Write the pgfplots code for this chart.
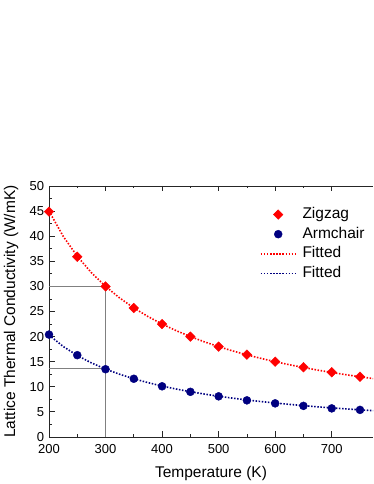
\documentclass[border=0pt]{standalone}
\usepackage{fontspec}
\setmainfont{Liberation Sans}
\usepackage{pgfplots}
\pgfplotsset{compat=1.18}
\definecolor{zigred}{RGB}{255,0,0}
\definecolor{armnavy}{RGB}{0,0,128}
\pgfplotsset{
  markleg/.style={legend image code/.code={\draw[##1] plot coordinates {(17.5pt,0pt)};}},
  lineleg/.style={legend image code/.code={\draw[##1] (0pt,0pt) -- (35pt,0pt);}},
}
\begin{document}
\begin{tikzpicture}
\path[use as bounding box] (0,0) rectangle (374pt,484pt);
\begin{axis}[
  at={(49pt,47pt)}, anchor=south west,
  scale only axis, width=324pt, height=251pt,
  xmin=200, xmax=773, ymin=0, ymax=50,
  axis x line*=box, axis y line*=left,
  axis line style={-, line width=0.9pt, black!85},
  xtick={200,300,...,700}, ytick={0,5,...,50},
  minor x tick num=1, minor y tick num=1,
  tick align=inside,
  major tick length=5.5pt, minor tick length=2.5pt,
  tick style={black!85, line width=0.8pt},
  /pgf/number format/assume math mode=true,
  tick label style={font=\fontsize{13}{15}\selectfont, inner sep=0.5pt},
  x tick label style={yshift=-6.8pt},
  y tick label style={xshift=-4.3pt},
  xlabel={Temperature (K)},
  ylabel={Lattice Thermal Conductivity (W/mK)},
  every axis x label/.style={at={(axis description cs:0.5,-0.1434)}, anchor=center, font=\fontsize{15.5}{18}\selectfont},
  every axis y label/.style={at={(axis description cs:-0.1173,0.5)}, anchor=center, rotate=90, font=\fontsize{15.5}{18}\selectfont},
  legend style={draw=none, fill=none, at={(0.651,0.918)}, anchor=north west,
    inner sep=0pt, outer sep=0pt, row sep=3.6pt,
    font=\fontsize{15.5}{18}\selectfont,
    nodes={inner sep=1pt, text height=11pt, text depth=3pt},
    /tikz/every odd column/.append style={column sep=5pt}},
  legend cell align=left,
  fitline/.style={line width=1.6pt, dash pattern=on 1.5pt off 1.6pt},
]

% legend entries
\addlegendimage{only marks, mark=square*, mark size=3.4pt, mark options={rotate=45, fill=zigred, draw=zigred}, markleg}
\addlegendentry{Zigzag}
\addlegendimage{only marks, mark=*, mark size=4pt, mark options={fill=armnavy, draw=armnavy}, markleg}
\addlegendentry{Armchair}
\addlegendimage{zigred, fitline, lineleg}
\addlegendentry{Fitted}
\addlegendimage{armnavy, fitline, lineleg}
\addlegendentry{Fitted}

% guide lines at 300 K
\addplot[gray, line width=0.5pt, forget plot] coordinates {(200,30.1) (300,30.1) (300,0)};
\addplot[gray, line width=0.5pt, forget plot] coordinates {(200,13.6) (300,13.6)};

% fitted curves
\addplot[zigred, fitline, forget plot] coordinates {
(200,45) (225,40) (250,36) (275,32.73) (300,30) (325,27.69) (350,25.71)
(375,24) (400,22.5) (425,21.18) (450,20) (475,18.95) (500,18) (525,17.14)
(550,16.36) (575,15.65) (600,15) (625,14.4) (650,13.85) (675,13.33)
(700,12.86) (725,12.41) (750,12) (775,11.61)};
\addplot[armnavy, fitline, forget plot] coordinates {
(200,20.3) (225,18.04) (250,16.24) (275,14.76) (300,13.53) (325,12.49)
(350,11.6) (375,10.83) (400,10.15) (425,9.55) (450,9.02) (475,8.55)
(500,8.12) (525,7.73) (550,7.38) (575,7.06) (600,6.77) (625,6.5)
(650,6.25) (675,6.01) (700,5.8) (725,5.6) (750,5.41) (775,5.24)};

% data points
\addplot[only marks, mark=square*, mark size=3.4pt, mark options={rotate=45, fill=zigred, draw=zigred}, forget plot] coordinates {
(200,44.9) (250,35.9) (300,30.0) (350,25.7) (400,22.5) (450,20.0)
(500,18.0) (550,16.4) (600,15.0) (650,13.9) (700,12.9) (750,12.0)};
\addplot[only marks, mark=*, mark size=4pt, mark options={fill=armnavy, draw=armnavy}, forget plot] coordinates {
(200,20.4) (250,16.3) (300,13.5) (350,11.6) (400,10.1) (450,9.0)
(500,8.1) (550,7.3) (600,6.7) (650,6.2) (700,5.7) (750,5.4)};
\end{axis}
\end{tikzpicture}
\end{document}
